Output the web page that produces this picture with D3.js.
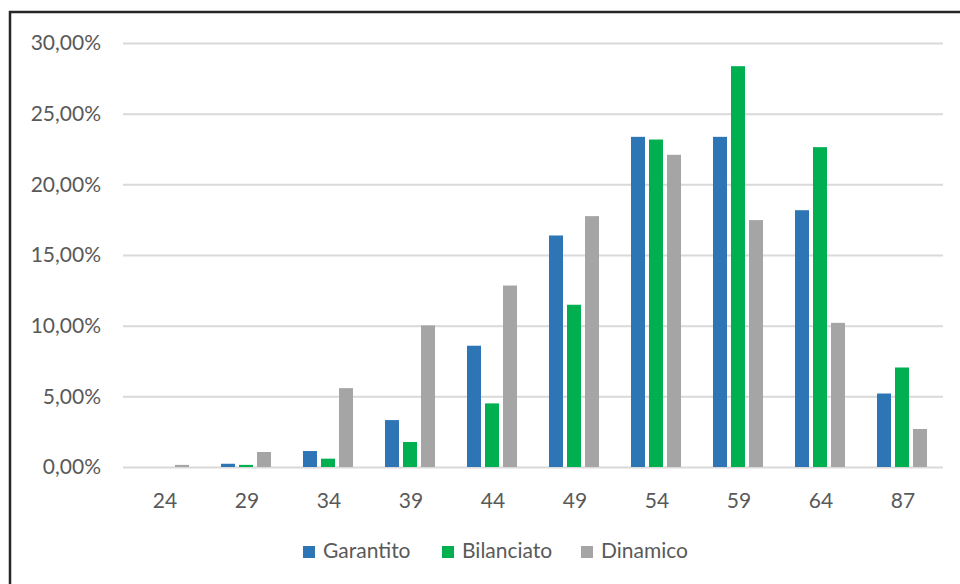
<!DOCTYPE html>
<html><head><meta charset="utf-8">
<script src="https://cdn.jsdelivr.net/npm/d3@7"></script>
<style>html,body{margin:0;padding:0;background:#fff;}svg{display:block;}</style>
</head><body>
<svg id="chart" width="960" height="584"></svg>
<script>
const categories = ["24","29","34","39","44","49","54","59","64","87"];
const seriesNames = ["Garantito","Bilanciato","Dinamico"];
const garantito  = [0.00, 0.23, 1.13, 3.32, 8.58, 16.38, 23.36, 23.36, 18.17, 5.20];
const bilanciato = [0.00, 0.15, 0.59, 1.77, 4.50, 11.48, 23.17, 28.36, 22.63, 7.04];
const dinamico   = [0.15, 1.06, 5.58, 10.02, 12.84, 17.75, 22.09, 17.47, 10.20, 2.69];
const yTicks = [0, 5, 10, 15, 20, 25, 30];
const colors = ["#2E75B6", "#00B050", "#A5A5A5"];

(function () {
const seriesValues = [garantito, bilanciato, dinamico];
const svg = d3.select("#chart");
const font = "Lato, 'Open Sans', sans-serif";
const textColor = "#595959";

const mLeft = 123, mRight = 943, mTop = 43, mBottom = 467;

const x0 = d3.scaleBand().domain(categories).range([mLeft, mRight]).paddingInner(0.39).paddingOuter(0.195);
const x1 = d3.scaleBand().domain(seriesNames).range([0, x0.bandwidth()]).paddingInner(0.222).paddingOuter(0);
const y = d3.scaleLinear().domain([0, 30]).range([mBottom, mTop]);

// frame
svg.append("rect").attr("x", 10).attr("y", 12).attr("width", 1000).attr("height", 1000)
  .attr("fill", "none").attr("stroke", "#262626").attr("stroke-width", 2.5);

// gridlines
const yAxis = d3.axisLeft(y).tickValues(yTicks).tickSize(-(mRight - mLeft)).tickPadding(22)
  .tickFormat(d => d3.format(".2f")(d).replace(".", ",") + "%");
const gy = svg.append("g").attr("transform", `translate(${mLeft},0)`).call(yAxis);
gy.select(".domain").remove();
gy.selectAll(".tick line").attr("stroke", "#D9D9D9").attr("stroke-width", 2);
gy.selectAll(".tick text").attr("fill", textColor).attr("font-family", font).attr("font-size", 21);

// bars
const groups = svg.append("g").selectAll("g").data(categories).join("g")
  .attr("transform", d => `translate(${x0(d)},0)`);
groups.selectAll("rect")
  .data((c, i) => seriesNames.map((s, k) => ({s, v: seriesValues[k][i], k})))
  .join("rect")
  .attr("x", d => x1(d.s))
  .attr("width", x1.bandwidth())
  .attr("y", d => y(d.v))
  .attr("height", d => y(0) - y(d.v))
  .attr("fill", d => colors[d.k]);

// x axis
const xAxis = d3.axisBottom(x0).tickSize(0).tickPadding(26);
const gx = svg.append("g").attr("transform", `translate(1,${mBottom})`).call(xAxis);
gx.select(".domain").remove();
gx.selectAll(".tick text").attr("fill", textColor).attr("font-family", font).attr("font-size", 21);

// legend
const legendX = [303, 442, 581];
const lg = svg.append("g").selectAll("g").data(seriesNames).join("g")
  .attr("transform", (d, i) => `translate(${legendX[i]},546)`);
lg.append("rect").attr("width", 12).attr("height", 12).attr("fill", (d, i) => colors[i]);
lg.append("text").attr("x", 20).attr("y", 12).text(d => d)
  .attr("fill", textColor).attr("font-family", font).attr("font-size", 21);
})();
</script>
</body></html>
